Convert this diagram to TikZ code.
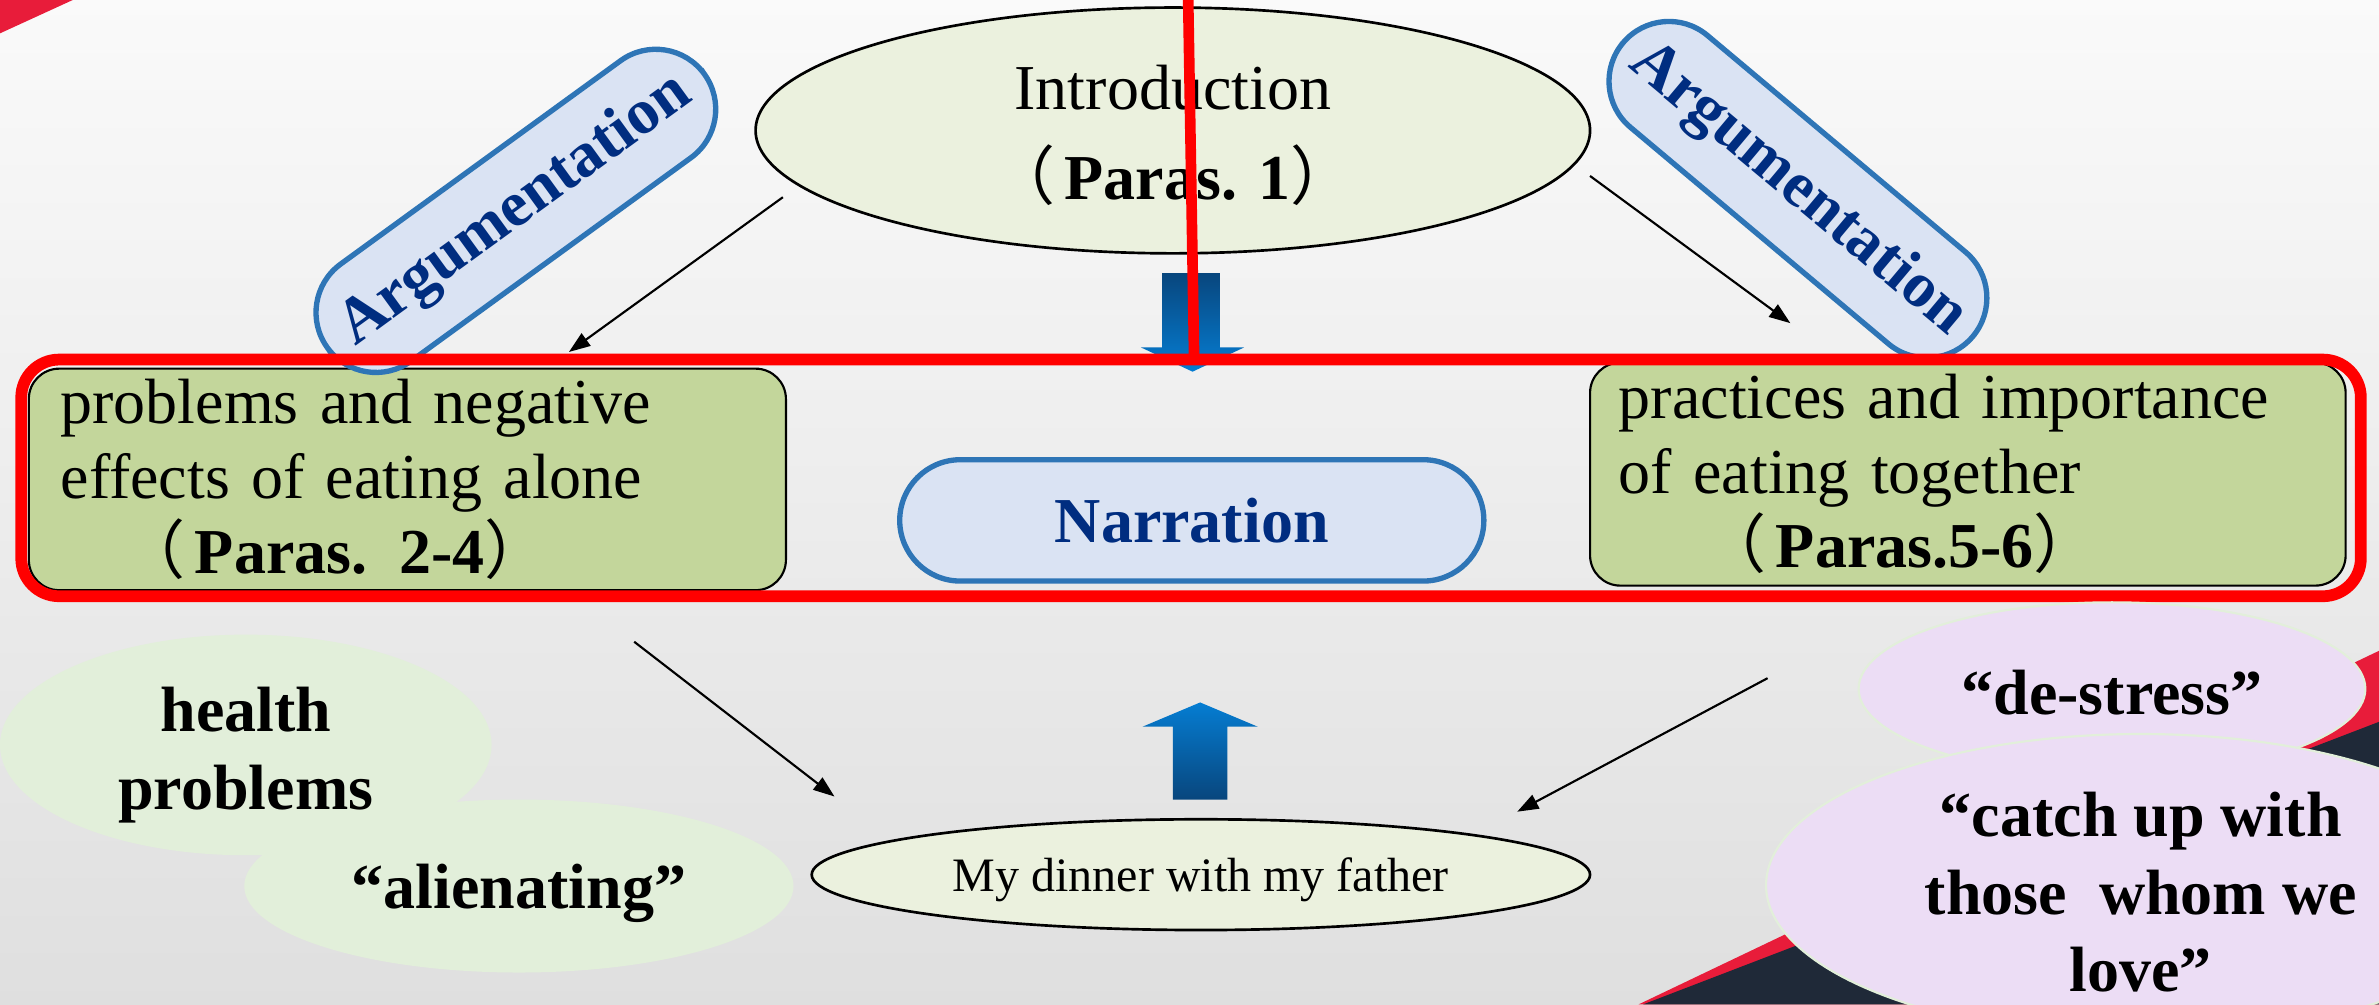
\documentclass[tikz,border=0pt]{standalone}
\usepackage{fontspec}
\setmainfont{Liberation Serif}
\newfontfamily\cjk{Noto Sans CJK SC}
\usetikzlibrary{arrows.meta,shapes.geometric}

\definecolor{introfill}{RGB}{235,241,222}
\definecolor{boxfill}{RGB}{195,214,155}
\definecolor{pillfill}{RGB}{218,227,243}
\definecolor{pillline}{RGB}{46,117,182}
\definecolor{pilltext}{RGB}{0,45,128}
\definecolor{leaffill}{RGB}{226,239,218}
\definecolor{lilacfill}{RGB}{236,221,245}
\definecolor{crimson}{RGB}{232,28,58}
\definecolor{navyblock}{RGB}{31,41,56}
\definecolor{arrowdark}{RGB}{8,70,125}
\definecolor{arrowlight}{RGB}{5,125,210}

\newcommand{\fwlp}{{\cjk\mdseries （}\hspace{0.15em}}
\newcommand{\fwrp}{{\cjk\mdseries ）}}
\newcommand{\lift}[1]{\rule{0pt}{#1}}

\begin{document}
\begin{tikzpicture}[
	every node/.style={font=\fontsize{12}{14}\selectfont},
	oval/.style={ellipse, draw, fill=introfill, line width=0.5pt, inner sep=0pt, align=center},
	para/.style={rectangle, rounded corners=0.2cm, draw, fill=boxfill, line width=0.4pt, align=left, inner ysep=0pt},
	pill/.style={rectangle, rounded corners=0.395cm, draw=pillline, line width=1pt, fill=pillfill, text=pilltext, font=\fontsize{12}{14}\selectfont\bfseries, minimum height=0.79cm, inner sep=0pt},
	bubble/.style={ellipse, inner sep=0pt, font=\fontsize{12}{14.5}\selectfont\bfseries, align=center},
	link/.style={-{Triangle[length=1.4mm,width=1mm]}, line width=0.4pt}
]
	\shade[top color=black!2, bottom color=black!12.5] (0,0) rectangle (15.68,6.62);
	\useasboundingbox (0,0) rectangle (15.68,6.62);

	\fill[crimson] (0,6.62) -- (0.48,6.62) -- (0,6.40) -- cycle;
	\fill[crimson] (10.80,0) -- (15.70,2.34) -- (15.70,0) -- cycle;
	\fill[navyblock] (10.83,0) -- (15.70,1.87) -- (15.70,0) -- cycle;

	\node[oval, minimum width=5.5cm, minimum height=1.62cm, font=\fontsize{12}{16.8}\selectfont] (intro) at (7.73,5.76) {\lift{10.2pt}Introduction\\\textbf{\fwlp Paras. 1\fwrp}};

	\node[para, minimum width=4.99cm, minimum height=1.46cm, inner xsep=0.21cm, text width=4.57cm] (lbox) at (2.685,3.46) {problems and negative\\effects of eating alone\\\hspace*{0.4cm}\textbf{\fwlp Paras. 2-4\fwrp}};
	\node[para, minimum width=4.98cm, minimum height=1.47cm, inner xsep=0.19cm, text width=4.60cm] (rbox) at (12.97,3.495) {practices and importance\\of eating together\\\hspace*{0.55cm}\textbf{\fwlp Paras.5-6\fwrp}};

	\node[pill, minimum width=3.85cm, minimum height=0.80cm, rounded corners=0.4cm] (narr) at (7.855,3.19) {Narration};
	\node[pill, rotate=36, minimum width=3.07cm] (argl) at (3.40,5.23) {Argumentation};
	\node[pill, rotate=-40, minimum width=3.01cm] (argr) at (11.85,5.37) {Argumentation};

	\shade[top color=arrowdark, bottom color=arrowlight] (7.66,4.82) -- (8.04,4.82) -- (8.04,4.33) -- (8.20,4.33) -- (7.86,4.17) -- (7.52,4.33) -- (7.66,4.33) -- cycle;
	\shade[top color=arrowlight, bottom color=arrowdark] (7.73,1.35) -- (7.73,1.83) -- (7.53,1.83) -- (7.91,1.99) -- (8.29,1.83) -- (8.09,1.83) -- (8.09,1.35) -- cycle;

	\draw[red, line width=2.2pt, rounded corners=0.25cm] (0.14,2.69) rectangle (15.56,4.25);
	\coordinate (marktop) at (7.83,6.70);
	\coordinate (markbot) at (7.87,4.28);
	\draw[red, line width=2pt] (marktop) -- (markbot);

	\node[oval, minimum width=5.13cm, minimum height=0.73cm, font=\fontsize{9}{11}\selectfont] (dinner) at (7.915,0.855) {\lift{8.4pt}My dinner with my father};

	\node[bubble, fill=leaffill, minimum width=3.24cm, minimum height=1.13cm] (health) at (1.62,1.71) {\lift{12.2pt}health\\problems};
	\node[bubble, fill=leaffill, minimum width=3.62cm, minimum height=1.14cm] (alien) at (3.42,0.78) {\lift{11pt}“alienating”};
	\node[bubble, fill=lilacfill, draw=leaffill, minimum width=3.34cm, minimum height=1.14cm] (destress) at (13.92,2.08) {\lift{9.9pt}“de-stress”};
	\node[bubble, fill=lilacfill, draw=leaffill, minimum width=4.94cm, minimum height=1.57cm] (catchup) at (14.11,0.785) {\lift{11pt}“catch up with\\those~~whom we\\love”};

	\coordinate (introL) at (5.16,5.32);
	\coordinate (lboxtop) at (3.75,4.30);
	\coordinate (introR) at (10.48,5.46);
	\coordinate (rboxtop) at (11.80,4.49);
	\coordinate (lboxbot) at (4.18,2.39);
	\coordinate (dinnerL) at (5.50,1.37);
	\coordinate (rboxbot) at (11.65,2.15);
	\coordinate (dinnerR) at (10.00,1.27);
	\draw[link] (introL) -- (lboxtop);
	\draw[link] (introR) -- (rboxtop);
	\draw[link] (lboxbot) -- (dinnerL);
	\draw[link] (rboxbot) -- (dinnerR);
\end{tikzpicture}
\end{document}
